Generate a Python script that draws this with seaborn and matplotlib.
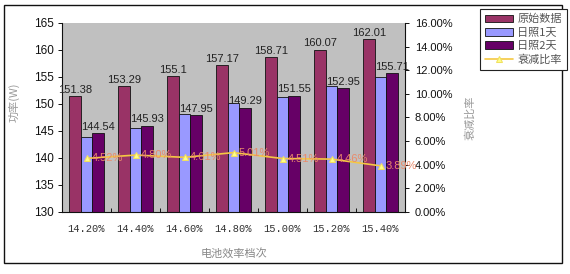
import numpy as np
import pandas as pd
import matplotlib
matplotlib.use("Agg")
import matplotlib.pyplot as plt
import seaborn as sns
from matplotlib.patches import Rectangle
from matplotlib.ticker import FuncFormatter

# ---- data ----
categories = ["14.20%", "14.40%", "14.60%", "14.80%", "15.00%", "15.20%", "15.40%"]
original = [151.38, 153.29, 155.1, 157.17, 158.71, 160.07, 162.01]
day1 = [143.8, 145.6, 148.2, 150.1, 151.3, 153.3, 154.9]
day2 = [144.54, 145.93, 147.95, 149.29, 151.55, 152.95, 155.71]
ratio = [0.0452, 0.0480, 0.0461, 0.0501, 0.0451, 0.0446, 0.0389]
series_names = ["原始数据", "日照1天", "日照2天"]
ratio_name = "衰减比率"

sns.set_theme(style="white")
plt.rcParams["font.family"] = ["Liberation Sans", "Noto Sans CJK SC", "DejaVu Sans"]

df = pd.DataFrame({
    "cat": categories * 3,
    "val": original + day1 + day2,
    "series": [series_names[0]] * 7 + [series_names[1]] * 7 + [series_names[2]] * 7,
})

fig = plt.figure(figsize=(5.7, 2.74), dpi=100)
fig.patch.set_facecolor("white")
ax = fig.add_axes([62 / 570, 1 - 211.7 / 274, (405 - 62) / 570, (211.7 - 23) / 274])
ax.set_facecolor("#c0c0c0")

palette = ["#993366", "#9999ff", "#660066"]
sns.barplot(data=df, x="cat", y="val", hue="series", palette=palette, width=0.7,
            edgecolor="#111111", linewidth=0.6, ax=ax, legend=True, saturation=1)

ax.set_ylim(130, 165)
ax.set_yticks(np.arange(130, 166, 5))
ax.set_xlim(-0.5, 6.5)

# data labels
ax.bar_label(ax.containers[0], labels=[f"{v:g}" for v in original], padding=1,
             fontsize=8, color="#222222")
ax.bar_label(ax.containers[2], labels=[f"{v:g}" for v in day2], padding=1,
             fontsize=8, color="#222222")

# axes styling
ax.spines["top"].set_visible(False)
ax.spines["right"].set_visible(False)
for s in ["left", "bottom"]:
    ax.spines[s].set_color("#111111")
    ax.spines[s].set_linewidth(0.8)

ax.tick_params(axis="y", direction="out", length=3, width=0.7, pad=3,
               labelsize=8.5, colors="#111111", left=True)
ax.tick_params(axis="x", which="major", length=0, pad=9, labelsize=7.5)
ax.set_xticks(np.arange(-0.5, 7, 1), minor=True)
ax.tick_params(axis="x", which="minor", direction="in", length=3, width=0.7,
               bottom=True, color="#111111")
for lab in ax.get_xticklabels():
    lab.set_fontfamily(["Liberation Mono", "DejaVu Sans Mono"])
    lab.set_color("#333333")

ax.set_xlabel("电池效率档次", fontsize=8, color="#888888",
              fontfamily=["Noto Sans CJK SC", "DejaVu Sans"])
ax.xaxis.set_label_coords(0.5, -0.19)
ax.set_ylabel("功率(W)", fontsize=8, color="#999999",
              fontfamily=["Noto Sans CJK SC", "DejaVu Sans"])
ax.yaxis.set_label_coords(-0.125, 0.58)

# secondary axis: ratio line
ax2 = ax.twinx()
xs = np.arange(len(categories))
sns.lineplot(x=xs, y=ratio, ax=ax2, color="#f5c842", linewidth=1.2, marker="^",
             markersize=5, markerfacecolor="#ffff88", markeredgecolor="#f0e060",
             label=ratio_name, legend=False)
ax2.set_ylim(0, 0.16)
ax2.set_yticks(np.arange(0, 0.161, 0.02))
ax2.yaxis.set_major_formatter(FuncFormatter(lambda v, p: f"{v * 100:.2f}%"))
ax2.tick_params(axis="y", direction="out", length=3, width=0.7, pad=4,
                labelsize=8, colors="#111111", right=True)
for s in ["top", "left", "bottom"]:
    ax2.spines[s].set_visible(False)
ax2.spines["right"].set_color("#111111")
ax2.spines["right"].set_linewidth(0.8)
ax2.grid(False)
ax.grid(False)
ax2.set_ylabel(ratio_name, fontsize=8, color="#999999",
               fontfamily=["Noto Sans CJK SC", "DejaVu Sans"])
ax2.yaxis.set_label_coords(1.175, 0.5)

for x, r in zip(xs, ratio):
    ax2.annotate(f"{r * 100:.2f}%", (x, r), xytext=(4, 0), textcoords="offset points",
                 ha="left", va="center", fontsize=8, color="#ea8a6a")

# legend
h1, l1 = ax.get_legend_handles_labels()
h2, l2 = ax2.get_legend_handles_labels()
if ax.get_legend() is not None:
    ax.get_legend().remove()
leg = fig.legend(h1 + h2, l1 + l2, loc="upper left",
                 bbox_to_anchor=(480 / 570, 1 - 9 / 274), frameon=True,
                 fancybox=False, edgecolor="#222222", framealpha=1,
                 prop={"family": ["Noto Sans CJK SC", "DejaVu Sans"], "size": 8},
                 handlelength=2.5, handletextpad=0.4, borderpad=0.45,
                 labelspacing=0.3, borderaxespad=0)
leg.get_frame().set_linewidth(0.8)
for t in leg.get_texts():
    t.set_color("#555555")

# outer frame
fig.add_artist(Rectangle((4 / 570, 1 - 263 / 274), (562 - 4) / 570, (263 - 5) / 274,
                         transform=fig.transFigure, fill=False, edgecolor="#111111",
                         linewidth=1.0))

fig.savefig("out.png", dpi=100)
